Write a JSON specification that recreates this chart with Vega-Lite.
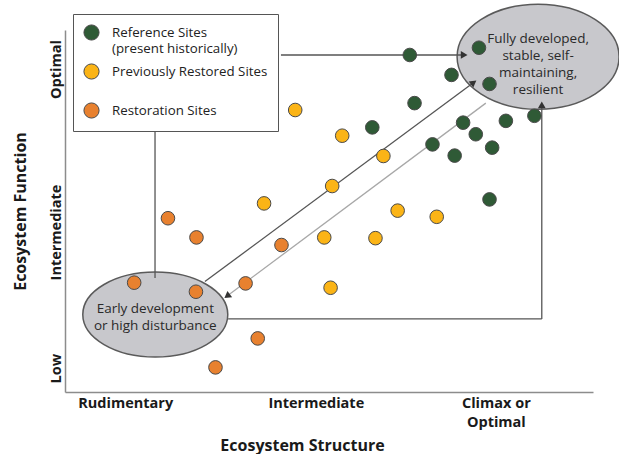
{
  "$schema": "https://vega.github.io/schema/vega-lite/v6.json",
  "width": 528,
  "height": 362,
  "autosize": {"type": "none"},
  "padding": {"left": 65, "top": 30, "right": 26, "bottom": 62},
  "background": "white",
  "config": {"view": {"stroke": null}, "font": "Open Sans", "style": {"guide-label": {"lineHeight": 16}}},
  "datasets": {
    "sites": [
      {"structure": 65.3, "function": 93.1, "group": "Reference Sites"},
      {"structure": 78.4, "function": 95.1, "group": "Reference Sites"},
      {"structure": 73.2, "function": 87.6, "group": "Reference Sites"},
      {"structure": 80.4, "function": 85.1, "group": "Reference Sites"},
      {"structure": 66.2, "function": 79.8, "group": "Reference Sites"},
      {"structure": 58.2, "function": 73.1, "group": "Reference Sites"},
      {"structure": 75.4, "function": 74.4, "group": "Reference Sites"},
      {"structure": 83.5, "function": 74.9, "group": "Reference Sites"},
      {"structure": 88.9, "function": 76.3, "group": "Reference Sites"},
      {"structure": 77.8, "function": 71.2, "group": "Reference Sites"},
      {"structure": 69.6, "function": 68.4, "group": "Reference Sites"},
      {"structure": 80.9, "function": 67.5, "group": "Reference Sites"},
      {"structure": 73.8, "function": 65.3, "group": "Reference Sites"},
      {"structure": 80.4, "function": 53.2, "group": "Reference Sites"},
      {"structure": 43.6, "function": 77.9, "group": "Previously Restored Sites"},
      {"structure": 52.5, "function": 70.8, "group": "Previously Restored Sites"},
      {"structure": 60.3, "function": 65.2, "group": "Previously Restored Sites"},
      {"structure": 50.6, "function": 56.9, "group": "Previously Restored Sites"},
      {"structure": 37.7, "function": 52.1, "group": "Previously Restored Sites"},
      {"structure": 63.0, "function": 50.1, "group": "Previously Restored Sites"},
      {"structure": 70.4, "function": 48.4, "group": "Previously Restored Sites"},
      {"structure": 49.1, "function": 42.7, "group": "Previously Restored Sites"},
      {"structure": 58.8, "function": 42.5, "group": "Previously Restored Sites"},
      {"structure": 50.3, "function": 28.8, "group": "Previously Restored Sites"},
      {"structure": 19.5, "function": 48.0, "group": "Restoration Sites"},
      {"structure": 24.9, "function": 42.7, "group": "Restoration Sites"},
      {"structure": 41.0, "function": 40.6, "group": "Restoration Sites"},
      {"structure": 13.1, "function": 30.2, "group": "Restoration Sites"},
      {"structure": 24.8, "function": 27.7, "group": "Restoration Sites"},
      {"structure": 34.2, "function": 30.0, "group": "Restoration Sites"},
      {"structure": 36.5, "function": 14.8, "group": "Restoration Sites"},
      {"structure": 28.5, "function": 6.8, "group": "Restoration Sites"}
    ],
    "states": [
      {"state": "climax", "structure": 89.6, "function": 92.6, "label": "Fully developed,\nstable, self-\nmaintaining,\nresilient", "labelFunction": 97.6},
      {"state": "early", "structure": 17.1, "function": 21.4, "label": "Early development\nor high disturbance", "labelFunction": 22.9}
    ],
    "links": [
      {"link": "legend-early", "kind": "dark", "x": 17.05, "y": 72.1, "x2": 17.05, "y2": 31.5},
      {"link": "legend-climax", "kind": "dark", "x": 40.9, "y": 93.1, "x2": 75.2, "y2": 93.1},
      {"link": "early-right", "kind": "dark", "x": 30.9, "y": 20.2, "x2": 90.3, "y2": 20.2},
      {"link": "right-up", "kind": "dark", "x": 90.3, "y": 20.2, "x2": 90.3, "y2": 78.7},
      {"link": "restore", "kind": "dark", "x": 26.5, "y": 30.5, "x2": 77.4, "y2": 85.5},
      {"link": "degrade", "kind": "light", "x": 79.7, "y": 79.8, "x2": 30.7, "y2": 26.5}
    ],
    "heads": [
      {"link": "legend-climax", "x": 75.6, "y": 93.1},
      {"link": "right-up", "x": 90.3, "y": 79.3},
      {"link": "restore", "x": 77.4, "y": 85.5},
      {"link": "degrade", "x": 30.7, "y": 26.5}
    ]
  },
  "layer": [
    {
      "data": {"name": "states"},
      "transform": [{"filter": "datum.state == 'climax'"}],
      "mark": {"type": "point", "shape": "M-1,0A1,0.648,0,1,1,1,0A1,0.648,0,1,1,-1,0Z", "size": 26244, "filled": true, "fill": "#c8c8cc", "stroke": "#5a5a5a", "strokeWidth": 1.5, "opacity": 1},
      "encoding": {
        "x": {"field": "structure", "type": "quantitative", "scale": {"domain": [0, 100]},
          "axis": {"values": [11.4, 47.5, 81.6], "labelExpr": "datum.value > 70 ? ['Climax or', 'Optimal'] : datum.value > 30 ? 'Intermediate' : 'Rudimentary'",
            "domainColor": "#8c8c8c", "domainWidth": 1.5, "ticks": false, "grid": false, "labelFlush": false, "labelOverlap": false,
            "labelFont": "Open Sans", "labelFontWeight": "bold", "labelFontSize": 14.5, "labelColor": "#1a1a1a", "labelPadding": 4, "labelLineHeight": 19,
            "title": "Ecosystem Structure", "titleFont": "Open Sans", "titleFontWeight": "bold", "titleFontSize": 16, "titleColor": "#1a1a1a",
            "titleX": 237, "titleY": 58, "titleBaseline": "alphabetic", "titleAlign": "center"}},
        "y": {"field": "function", "type": "quantitative", "scale": {"domain": [0, 100]},
          "axis": {"values": [6.6, 44.2, 89.2], "labelExpr": "datum.value > 70 ? 'Optimal' : datum.value > 30 ? 'Intermediate' : 'Low'",
            "domainColor": "#8c8c8c", "domainWidth": 1.5, "ticks": false, "grid": false, "labelFlush": false, "labelOverlap": false,
            "labelAngle": -90, "labelAlign": "center", "labelBaseline": "bottom",
            "labelFont": "Open Sans", "labelFontWeight": "bold", "labelFontSize": 14.5, "labelColor": "#1a1a1a", "labelPadding": 2,
            "title": "Ecosystem Function", "titleFont": "Open Sans", "titleFontWeight": "bold", "titleFontSize": 16, "titleColor": "#1a1a1a",
            "titleX": -40, "titleY": 181, "titleBaseline": "alphabetic", "titleAlign": "center", "titleAngle": -90}}
      }
    },
    {
      "data": {"name": "states"},
      "transform": [{"filter": "datum.state == 'early'"}],
      "mark": {"type": "point", "shape": "M-1,0A1,0.586,0,1,1,1,0A1,0.586,0,1,1,-1,0Z", "size": 21025, "filled": true, "fill": "#c8c8cc", "stroke": "#5a5a5a", "strokeWidth": 1.5, "opacity": 1},
      "encoding": {
        "x": {"field": "structure", "type": "quantitative"},
        "y": {"field": "function", "type": "quantitative"}
      }
    },
    {
      "data": {"name": "links"},
      "transform": [{"filter": "datum.kind == 'dark'"}],
      "mark": {"type": "rule", "color": "#555555", "strokeWidth": 1.3},
      "encoding": {
        "x": {"field": "x", "type": "quantitative"},
        "y": {"field": "y", "type": "quantitative"},
        "x2": {"field": "x2"},
        "y2": {"field": "y2"}
      }
    },
    {
      "data": {"name": "links"},
      "transform": [{"filter": "datum.kind == 'light'"}],
      "mark": {"type": "rule", "color": "#a8a8a8", "strokeWidth": 1.3},
      "encoding": {
        "x": {"field": "x", "type": "quantitative"},
        "y": {"field": "y", "type": "quantitative"},
        "x2": {"field": "x2"},
        "y2": {"field": "y2"}
      }
    },
    {
      "data": {"name": "heads"},
      "transform": [{"filter": "datum.link == 'legend-climax'"}],
      "mark": {"type": "point", "shape": "triangle-up", "angle": 90, "size": 60, "filled": true, "color": "#333333", "opacity": 1},
      "encoding": {"x": {"field": "x", "type": "quantitative"}, "y": {"field": "y", "type": "quantitative"}}
    },
    {
      "data": {"name": "heads"},
      "transform": [{"filter": "datum.link == 'right-up'"}],
      "mark": {"type": "point", "shape": "triangle-up", "angle": 0, "size": 60, "filled": true, "color": "#333333", "opacity": 1},
      "encoding": {"x": {"field": "x", "type": "quantitative"}, "y": {"field": "y", "type": "quantitative"}}
    },
    {
      "data": {"name": "heads"},
      "transform": [{"filter": "datum.link == 'restore'"}],
      "mark": {"type": "point", "shape": "triangle-up", "angle": 53, "size": 60, "filled": true, "color": "#333333", "opacity": 1},
      "encoding": {"x": {"field": "x", "type": "quantitative"}, "y": {"field": "y", "type": "quantitative"}}
    },
    {
      "data": {"name": "heads"},
      "transform": [{"filter": "datum.link == 'degrade'"}],
      "mark": {"type": "point", "shape": "triangle-up", "angle": 233, "size": 60, "filled": true, "color": "#333333", "opacity": 1},
      "encoding": {"x": {"field": "x", "type": "quantitative"}, "y": {"field": "y", "type": "quantitative"}}
    },
    {
      "data": {"name": "sites"},
      "mark": {"type": "point", "filled": true, "size": 185, "stroke": "#4a4a4a", "strokeWidth": 1, "opacity": 1},
      "encoding": {
        "x": {"field": "structure", "type": "quantitative"},
        "y": {"field": "function", "type": "quantitative"},
        "color": {"field": "group", "type": "nominal",
          "scale": {"domain": ["Reference Sites", "Previously Restored Sites", "Restoration Sites"], "range": ["#2f5a36", "#fbb416", "#e8812f"]},
          "legend": {"title": null, "orient": "none", "legendX": 8, "legendY": -16, "direction": "vertical",
            "strokeColor": "#555555", "fillColor": "white", "padding": 10,
            "symbolSize": 230, "symbolStrokeColor": "#4a4a4a", "symbolStrokeWidth": 1, "symbolType": "circle",
            "labelFont": "Open Sans", "labelFontSize": 13.3, "labelColor": "#222222", "labelLimit": 300, "labelOffset": 12,
            "rowPadding": 6,
            "labelExpr": "datum.label == 'Reference Sites' ? ['Reference Sites', '(present historically)'] : datum.label == 'Previously Restored Sites' ? ['Previously Restored Sites', ' '] : datum.label"}}
      }
    },
    {
      "data": {"name": "states"},
      "mark": {"type": "text", "lineBreak": "\n", "font": "Open Sans", "fontSize": 13.5, "lineHeight": 17, "color": "#2a2a2a", "align": "center", "baseline": "middle"},
      "encoding": {
        "x": {"field": "structure", "type": "quantitative"},
        "y": {"field": "labelFunction", "type": "quantitative"},
        "text": {"field": "label"}
      }
    }
  ]
}
